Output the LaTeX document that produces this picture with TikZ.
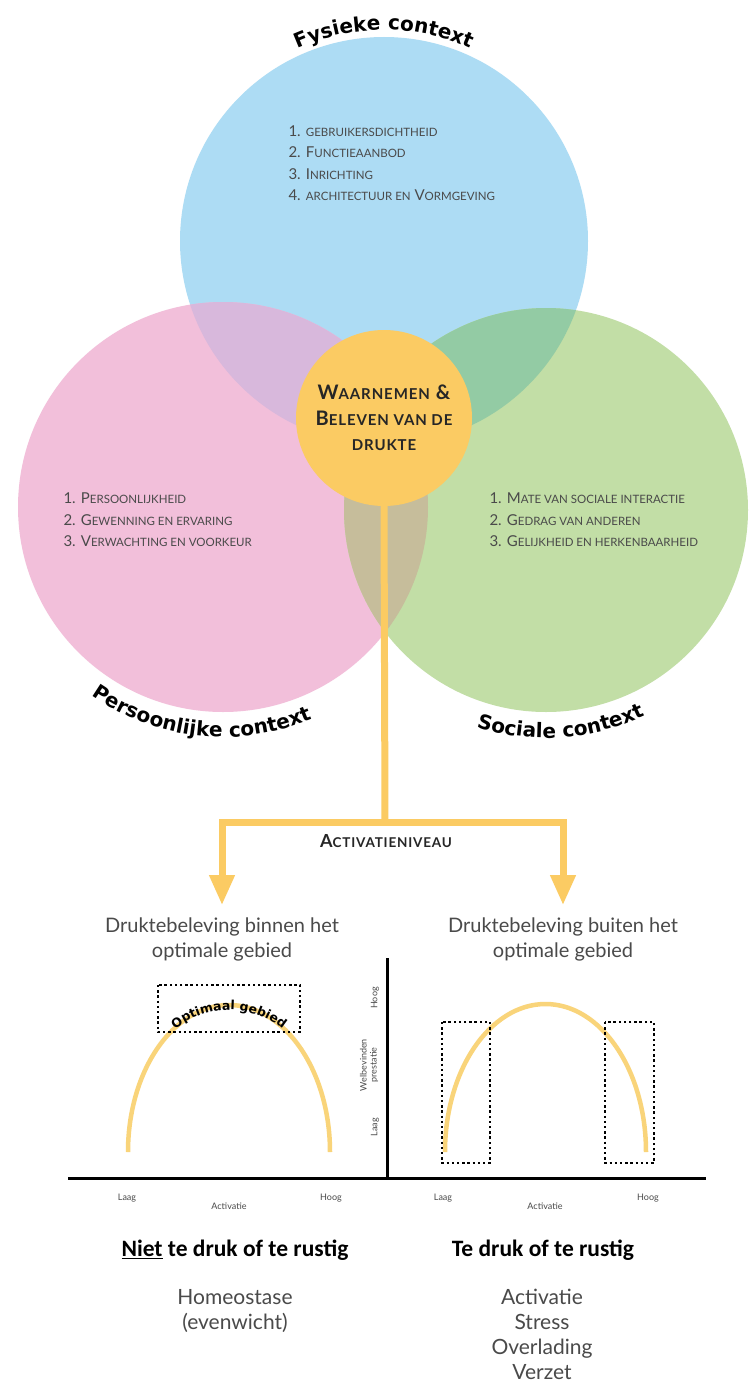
\documentclass[tikz,border=0pt]{standalone}
\usepackage{fontspec}
\setmainfont{Lato}
\newfontfamily\titelfont{DejaVu Sans}
\newfontfamily\kopfont{Carlito}
\newfontfamily\wijdfont[LetterSpace=6]{Lato}
\usetikzlibrary{arrows.meta,decorations.text}

\definecolor{blauw}{HTML}{ADDCF4}
\definecolor{roze}{HTML}{F2BFDA}
\definecolor{groen}{HTML}{C2DEA6}
\definecolor{paars}{HTML}{D8B8DC}
\definecolor{donkergroen}{HTML}{93CBA4}
\definecolor{olijf}{HTML}{C6BD9B}
\definecolor{geel}{HTML}{FBCB63}
\definecolor{lijngeel}{HTML}{F9D47A}
\definecolor{grijs}{HTML}{4A4A4A}

\newcommand\sm[2][11.5]{{\fontsize{#1}{#1}\selectfont\MakeUppercase{#2}}}

\tikzset{
  lijst/.style={align=left, anchor=west, text=grijs, font=\fontsize{15}{21.5}\selectfont},
  boog/.style={decorate, decoration={text along path, text align=center,
    text={|\titelfont\bfseries\fontsize{20}{20}\selectfont|#1}}},
  stam/.style={draw=geel, line width=7pt},
  pijl/.style={stam, -{Triangle[length=30pt,width=24pt]}},
  vraag/.style={align=center, text=grijs, inner sep=0pt, font=\fontsize{20}{25}\selectfont},
  as/.style={line width=3pt, black},
  curve/.style={draw=lijngeel, line width=4.5pt},
  kader/.style={draw=black, line width=2.4pt, dash pattern=on 2.4pt off 2.8pt},
  klein/.style={text=grijs, font=\fontsize{9}{10}\selectfont},
  kop/.style={font=\kopfont\bfseries\fontsize{23.5}{26}\selectfont},
  tekst/.style={align=center, text=grijs, inner sep=0pt, font=\fontsize{21}{25}\selectfont}
}

\begin{document}
\begin{tikzpicture}[x=1pt,y=-1pt]
\useasboundingbox[fill=white] (0,0) rectangle (748,1381);
\coordinate (fys) at (384,241);
\coordinate (pers) at (223,507);
\coordinate (soc) at (546,510);
\fill[blauw] (fys) circle[radius=204];
\fill[roze] (pers) circle[radius=205];
\fill[groen] (soc) circle[radius=202];
\begin{scope}
\clip (pers) circle[radius=205];
\fill[paars] (fys) circle[radius=204];
\fill[olijf] (soc) circle[radius=202];
\end{scope}
\begin{scope}
\clip (soc) circle[radius=202];
\fill[donkergroen] (fys) circle[radius=204];
\end{scope}

\path[boog=Fysieke context] ([shift={(238:211)}]fys) arc[start angle=238, end angle=302, radius=211];
\path[boog=Persoonlijke context] ([shift={(134:230)}]pers) arc[start angle=134, end angle=58, radius=230];
\path[boog=Sociale context] ([shift={(118:228)}]soc) arc[start angle=118, end angle=54, radius=228];

\node[lijst] (fyslijst) at (285,163) {1. \sm{gebruikersdichtheid}\\2. F\sm{unctieaanbod}\\3. I\sm{nrichting}\\4. \sm{architectuur en} V\sm{ormgeving}};
\node[lijst] (perslijst) at (60,520) {1. P\sm{ersoonlijkheid}\\2. G\sm{ewenning en ervaring}\\3. V\sm{erwachting en voorkeur}};
\node[lijst] (soclijst) at (486,520) {1. M\sm{ate van sociale interactie}\\2. G\sm{edrag van anderen}\\3. G\sm{elijkheid en herkenbaarheid}};

\node[circle, fill=geel, minimum size=176, align=center, font=\wijdfont\bfseries\fontsize{20}{25.5}\selectfont, text=black!85] (kern) at (384,418) {W\sm[15]{aarnemen} \&\\B\sm[15]{eleven van de}\\\sm[15]{drukte}};

\coordinate (split) at (385,822);
\node[vraag] (binnen) at (222,939) {Druktebeleving binnen het\\optimale gebied};
\node[vraag] (buiten) at (563,939) {Druktebeleving buiten het\\optimale gebied};
\draw[stam] (kern.south) -- (split);
\draw[pijl, shorten >=12pt] (split) -| (binnen);
\draw[pijl, shorten >=12pt] (split) -| (buiten);
\node[font=\wijdfont\bfseries\fontsize{18}{18}\selectfont, text=black!85] (niveau) at (386,841) {A\sm[13.5]{ctivatieniveau}};

% assen
\coordinate (oorsprong) at (387,1178);
\coordinate (ytop) at (387,958);
\coordinate (xlinks) at (68,1178);
\coordinate (xrechts) at (706,1178);
\draw[as] (xlinks) -- (xrechts);
\draw[as] (oorsprong) -- (ytop);

\draw[curve] (128,1152) arc[start angle=180, end angle=360, x radius=101, y radius=147];
\draw[curve] (445,1152) arc[start angle=180, end angle=360, x radius=100.5, y radius=148];
\draw[kader] (158,985) rectangle (300,1032);
\draw[kader] (442,1022) rectangle (490,1163);
\draw[kader] (605,1022) rectangle (654,1163);
\coordinate (optm) at (229,1095);
\path[decorate, decoration={text along path, text align=center,
  text={|\titelfont\bfseries\fontsize{12.5}{13}\selectfont|Optimaal gebied}}]
  ([shift={(232:85)}]optm) arc[start angle=232, end angle=308, radius=85];

\node[klein, rotate=90] (yhoog) at (375,998) {Hoog};
\node[klein, rotate=90, align=center] (ylabel) at (369,1065) {Welbevinden\\prestatie};
\node[klein, rotate=90] (ylaag) at (375,1127) {Laag};
\node[klein] (laag1) at (127,1198) {Laag};
\node[klein] (act1) at (229,1206) {Activatie};
\node[klein] (hoog1) at (331,1198) {Hoog};
\node[klein] (laag2) at (443,1198) {Laag};
\node[klein] (act2) at (545,1206) {Activatie};
\node[klein] (hoog2) at (648,1198) {Hoog};

\node[kop] (nietdruk) at (235,1250) {\underline{Niet} te druk of te rustig};
\node[kop] (tedruk) at (543,1250) {Te druk of te rustig};
\node[tekst] (homeo) at (235,1311) {Homeostase\\(evenwicht)};
\node[tekst] (gevolg) at (542,1334) {Activatie\\Stress\\Overlading\\Verzet};
\end{tikzpicture}
\end{document}
